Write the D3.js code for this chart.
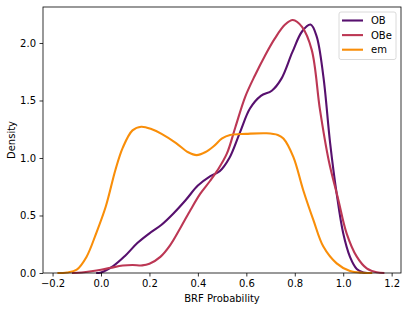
<!DOCTYPE html>
<html><head><meta charset="utf-8">
<script src="https://cdn.jsdelivr.net/npm/d3@7"></script>
<style>body{margin:0;background:#fff}svg{display:block;font-family:"DejaVu Sans",sans-serif}</style>
</head><body><svg id="c" width="409" height="311"></svg>
<script>
const seriesNames = ["OB", "OBe", "em"];
const seriesColors = ["#57106e", "#bc3754", "#f98e09"];
const obX = [-0.02,0.0,0.05,0.1,0.15,0.2,0.25,0.3,0.35,0.4,0.45,0.49,0.53,0.575,0.615,0.66,0.705,0.745,0.79,0.83,0.865,0.89,0.918,0.946,0.973,1.0,1.028,1.056,1.083,1.1];
const obY = [0,0.005,0.06,0.15,0.26,0.345,0.42,0.52,0.635,0.76,0.84,0.885,1.0,1.23,1.43,1.54,1.585,1.69,1.92,2.1,2.16,2.06,1.71,1.13,0.69,0.345,0.14,0.035,0.005,0];
const obeX = [-0.12,-0.08,-0.04,0,0.04,0.09,0.13,0.17,0.2,0.245,0.285,0.33,0.37,0.41,0.45,0.48,0.52,0.555,0.595,0.636,0.677,0.718,0.76,0.792,0.83,0.87,0.904,0.94,0.98,1.014,1.056,1.097,1.138,1.17];
const obeY = [0,0.005,0.015,0.028,0.045,0.065,0.07,0.066,0.08,0.14,0.24,0.40,0.55,0.69,0.80,0.89,1.04,1.27,1.53,1.72,1.89,2.04,2.16,2.2,2.14,1.94,1.42,0.98,0.635,0.345,0.142,0.04,0.006,0];
const emX = [-0.18,-0.14,-0.1,-0.06,-0.02,0.02,0.06,0.09,0.13,0.166,0.21,0.25,0.31,0.36,0.395,0.43,0.464,0.5,0.533,0.6,0.684,0.73,0.753,0.794,0.835,0.877,0.918,0.973,1.028,1.08,1.12];
const emY = [0,0.005,0.03,0.14,0.345,0.58,0.9,1.09,1.24,1.272,1.25,1.21,1.13,1.05,1.025,1.05,1.10,1.17,1.20,1.21,1.215,1.2,1.17,1.01,0.72,0.46,0.23,0.084,0.017,0.002,0];
const xTicks = [-0.2,0.0,0.2,0.4,0.6,0.8,1.0,1.2];
const yTicks = [0.0,0.5,1.0,1.5,2.0];

const series = [
  {name: seriesNames[0], color: seriesColors[0], xs: obX, ys: obY},
  {name: seriesNames[1], color: seriesColors[1], xs: obeX, ys: obeY},
  {name: seriesNames[2], color: seriesColors[2], xs: emX, ys: emY}
];

const L = 43, R = 401, T = 7, B = 273;
const svg = d3.select("#c");
const x = d3.scaleLinear().domain([-0.2395, 1.2386]).range([L, R]);
const y = d3.scaleLinear().domain([0, 2.313]).range([B, T]);

const line = d3.line().x(d => x(d[0])).y(d => Math.min(y(d[1]), B)).curve(d3.curveCatmullRom.alpha(0.5));
const g = svg.append("g");
series.forEach(s => {
  const pts = s.xs.map((v, i) => [v, s.ys[i]]);
  g.append("path").attr("d", line(pts)).attr("fill", "none")
    .attr("stroke", s.color).attr("stroke-width", 2.1).attr("stroke-linejoin", "round").attr("stroke-linecap", "butt");
});

// axes
const xa = svg.append("g").attr("transform", `translate(0,${B})`)
  .call(d3.axisBottom(x).tickValues(xTicks).tickSize(3.5).tickPadding(3.5).tickFormat(d => d3.format(".1f")(d).replace("-", "\u2212")));
const ya = svg.append("g").attr("transform", `translate(${L},0)`)
  .call(d3.axisLeft(y).tickValues(yTicks).tickSize(3.5).tickPadding(3.5).tickFormat(d3.format(".1f")));
[xa, ya].forEach(a => {
  a.select(".domain").remove();
  a.selectAll("line").attr("stroke", "#000").attr("stroke-width", 0.8);
  a.selectAll("text").attr("font-size", 10).attr("fill", "#000").attr("font-family", "DejaVu Sans");
});
// spines
svg.append("rect").attr("x", L).attr("y", T).attr("width", R - L).attr("height", B - T)
  .attr("fill", "none").attr("stroke", "#000").attr("stroke-width", 0.8);

svg.append("text").attr("x", (L + R) / 2).attr("y", 302).attr("text-anchor", "middle")
  .attr("font-size", 10).text("BRF Probability");
svg.append("text").attr("transform", `translate(15,${(T + B) / 2}) rotate(-90)`).attr("text-anchor", "middle")
  .attr("font-size", 10).text("Density");

// legend
const lg = svg.append("g");
lg.append("rect").attr("x", 339).attr("y", 12).attr("width", 57).attr("height", 47.5).attr("rx", 2)
  .attr("fill", "#fff").attr("fill-opacity", 0.8).attr("stroke", "#d0d0d0").attr("stroke-width", 0.8);
series.forEach((s, i) => {
  const yy = 20.5 + i * 14.6;
  lg.append("line").attr("x1", 342).attr("x2", 363).attr("y1", yy).attr("y2", yy)
    .attr("stroke", s.color).attr("stroke-width", 2.1);
  lg.append("text").attr("x", 371).attr("y", yy + 3.6).attr("font-size", 10).text(s.name);
});
</script></body></html>
